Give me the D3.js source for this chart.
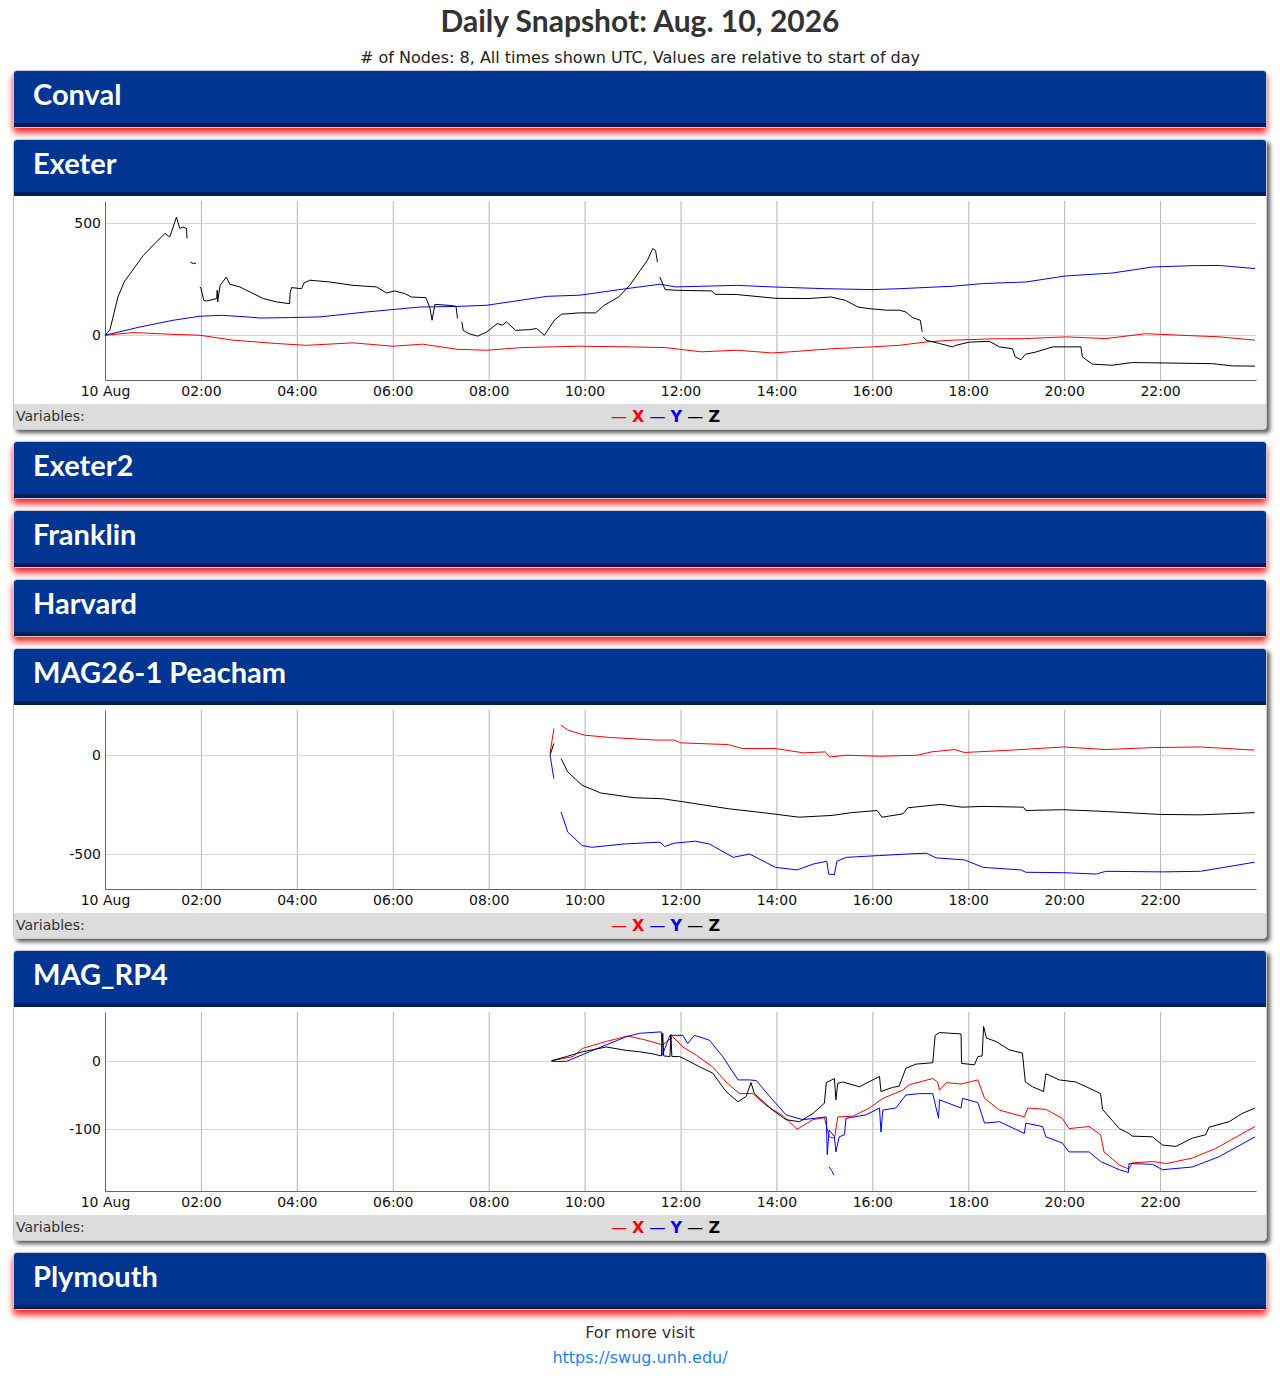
<!DOCTYPE html>
<html>
<head>
<meta charset="utf-8">
<script src="https://cdn.jsdelivr.net/npm/d3@7"></script>
<style>
body { margin: 0; background: #fff; font-family: "DejaVu Sans", sans-serif; color: #333; }
#title { height: 40px; line-height: 40px; text-align: center; font-family: Lato, sans-serif; font-weight: 700; font-size: 30px; color: #333; }
#subtitle { margin-top: 8px; height: 20px; line-height: 20px; text-align: center; font-size: 16px; color: #222; }
#panels { padding: 2px 13px 0 13px; }
.panel { border: 1px solid #c8c8c8; border-radius: 4px; margin-bottom: 11px; background: #fff; }
.panel.closed { box-shadow: 0 5px 6px rgba(255, 0, 0, 0.85); }
.panel.open { box-shadow: 3px 3px 4px rgba(0, 0, 0, 0.65); }
.head { height: 52px; line-height: 45px; border-bottom: 4px solid #001e58; background: #003591; color: #fff;
        font-family: Lato, sans-serif; font-weight: 700; font-size: 29px; padding-left: 19px; border-radius: 3px 3px 0 0; }
.chart svg { display: block; }
.vars { position: relative; height: 25px; line-height: 25px; background: #dcdcdc; font-size: 14px; padding-left: 2px; border-radius: 0 0 3px 3px; }
.legend { position: absolute; left: 597px; top: 0; font-size: 16px; }
.legend b { font-weight: bold; }
#foot { margin-top: -1px; text-align: center; font-size: 16px; line-height: 25px; color: #333; }
#foot a { color: #1a82f2; text-decoration: none; }
</style>
</head>
<body>
<div id="title">Daily Snapshot: Aug. 10, 2026</div>
<div id="subtitle"># of Nodes: 8, All times shown UTC, Values are relative to start of day</div>
<div id="panels"></div>
<div id="foot">For more visit<br><a href="https://swug.unh.edu/">https://swug.unh.edu/</a></div>
<script>
// node names, top to bottom
var nodeNames = ["Conval", "Exeter", "Exeter2", "Franklin", "Harvard", "MAG26-1 Peacham", "MAG_RP4", "Plymouth"];

// x axis: hours of the day
var hourTicks = [0, 2, 4, 6, 8, 10, 12, 14, 16, 18, 20, 22];
var hourLabels = ["10 Aug", "02:00", "04:00", "06:00", "08:00", "10:00", "12:00", "14:00", "16:00", "18:00", "20:00", "22:00"];

// variables
var varNames = ["X", "Y", "Z"];
var varColors = ["#ff0000", "#0000ff", "#000000"];

// Exeter  [hour, value]  (null = gap)
var exeterDomain = [-200, 600];
var exeterTicks = [0, 500];
var exeterX = [[0,0],[0.59,12],[1.42,4],[1.98,0],[2.67,-22],[3.58,-37],[4.2,-45],[5.17,-34],[6.0,-49],[6.62,-40],
  [7.36,-63],[7.96,-67],[8.7,-55],[9.89,-49],[10.94,-52],[11.68,-55],[12.43,-74],[13.17,-67],[13.91,-79],[14.29,-74],
  [15.18,-60],[16.0,-52],[16.56,-45],[17.12,-30],[17.67,-22],[18.51,-16],[19.2,-15],[20.03,-7],[20.87,-15],[21.7,7],
  [22.54,-1],[23.23,-7],[23.98,-22]];
var exeterY = [[0,0],[0.73,37],[1.42,67],[1.98,85],[2.43,89],[2.95,82],[3.23,77],[3.85,79],[4.48,82],[5.45,104],
  [6.56,126],[7.36,129],[7.96,134],[9.22,174],[9.9,179],[10.86,208],[11.57,228],[11.9,216],[13.17,223],[13.91,216],
  [15.03,208],[16.0,204],[16.56,208],[17.67,219],[18.3,231],[19.2,238],[20.03,265],[21.0,278],[21.84,305],[22.67,311],
  [23.23,312],[23.98,298]];
var exeterZ = [[0,0],[0.1,22],[0.27,171],[0.4,238],[0.55,283],[0.8,357],[1.04,410],[1.25,455],[1.35,439],[1.49,528],
  [1.56,477],[1.62,484],[1.70,477],[1.71,433],[1.74,null],[1.78,327],[1.84,320],[1.9,323],[1.94,null],[1.98,216],
  [2.0,210],[2.06,156],[2.12,153],[2.33,164],[2.34,201],[2.35,150],[2.4,223],[2.53,260],[2.6,228],[2.81,216],
  [3.3,164],[3.58,149],[3.85,141],[3.86,189],[3.89,213],[4.1,208],[4.15,234],[4.27,246],[4.69,238],[5.17,223],
  [5.66,216],[5.87,189],[6.04,198],[6.25,186],[6.39,171],[6.69,168],[6.77,126],[6.82,67],[6.88,138],[7.21,133],
  [7.32,129],[7.35,75],[7.39,null],[7.44,60],[7.47,22],[7.59,7],[7.77,-4],[7.96,15],[8.18,52],[8.29,45],
  [8.37,60],[8.56,22],[8.85,25],[9.0,30],[9.16,0],[9.37,67],[9.52,94],[9.89,100],[10.23,100],[10.41,134],
  [10.71,171],[10.94,223],[11.16,290],[11.31,335],[11.42,387],[11.48,379],[11.52,327],[11.545,null],[11.57,260],[11.64,223],
  [11.68,204],[11.9,201],[12.65,198],[12.72,183],[13.17,182],[13.99,165],[14.66,164],[15.14,171],[15.44,156],[15.7,126],
  [15.93,119],[16.3,112],[16.56,112],[16.7,104],[16.84,79],[17.0,67],[17.04,15],[17.05,null],[17.06,-7],[17.12,-22],
  [17.4,-37],[17.67,-52],[17.74,-45],[18.02,-31],[18.44,-27],[18.65,-52],[18.92,-60],[18.98,-97],[19.1,-109],[19.19,-85],
  [19.41,-75],[19.76,-52],[20.35,-52],[20.38,-97],[20.59,-129],[21.0,-134],[21.42,-122],[22.12,-124],[23.09,-127],[23.51,-137],
  [23.98,-138]];

// MAG26-1 Peacham
var peachamDomain = [-680, 230];
var peachamTicks = [-500, 0];
var peachamX = [[9.28,9],[9.36,136],[9.43,null],[9.51,153],[9.65,128],[10.0,102],[10.54,90],[11.52,77],[11.87,77],[12.01,63],
  [13.0,54],[13.29,34],[13.98,34],[14.57,12],[15.02,17],[15.11,-9],[15.46,0],[16.15,-5],[16.94,0],[17.23,17],
  [17.72,29],[17.92,14],[18.9,26],[19.99,42],[20.87,29],[21.86,39],[22.84,42],[23.97,26]];
var peachamY = [[9.28,0],[9.36,-119],[9.43,null],[9.51,-289],[9.65,-391],[9.95,-459],[10.15,-468],[10.83,-451],[11.57,-442],[11.67,-464],
  [11.87,-447],[12.31,-437],[12.6,-451],[13.1,-519],[13.44,-502],[13.98,-570],[14.43,-583],[14.77,-553],[15.05,-539],[15.09,-604],
  [15.21,-607],[15.26,-539],[15.46,-519],[16.15,-510],[16.74,-502],[17.13,-498],[17.33,-522],[17.92,-532],[18.31,-570],[19.1,-583],
  [19.2,-595],[19.99,-597],[20.67,-604],[20.87,-590],[22.05,-593],[22.84,-590],[23.33,-570],[23.97,-544]];
var peachamZ = [[9.28,0],[9.36,60],[9.43,null],[9.51,-17],[9.65,-85],[9.95,-153],[10.34,-192],[11.03,-216],[11.62,-221],[12.01,-235],
  [13.0,-272],[13.79,-294],[14.47,-315],[15.16,-306],[15.56,-292],[16.1,-281],[16.2,-315],[16.64,-298],[16.74,-267],[17.43,-250],
  [17.87,-264],[18.31,-260],[19.15,-264],[19.2,-281],[19.99,-277],[20.87,-286],[22.0,-301],[22.84,-303],[23.97,-292]];

// MAG_RP4
var rp4Domain = [-190, 71];
var rp4Ticks = [-100, 0];
var rp4X = [[9.31,0],[9.76,6],[9.96,18],[10.45,28],[10.9,36],[11.28,30],[11.63,23],[11.84,35],[12.05,20],[12.33,8],
  [12.67,-9],[12.95,-31],[13.23,-48],[13.51,-48],[13.78,-65],[14.15,-81],[14.43,-100],[14.76,-86],[15.0,-83],[15.1,-111],
  [15.21,-113],[15.28,-82],[15.59,-81],[15.94,-69],[16.22,-55],[16.63,-43],[16.77,-35],[17.26,-26],[17.36,-31],[17.4,-43],
  [17.54,-32],[17.85,-34],[18.2,-28],[18.34,-55],[18.65,-72],[19.17,-82],[19.24,-69],[19.62,-71],[19.96,-84],[20.1,-99],
  [20.52,-96],[20.76,-108],[20.83,-133],[21.15,-152],[21.35,-158],[21.42,-149],[21.84,-147],[22.13,-150],[22.67,-142],[23.16,-128],
  [23.98,-96]];
var rp4Y = [[9.31,-1],[9.62,-1],[10.1,13],[10.87,35],[11.15,40],[11.6,42],[11.62,8],[11.78,37],[12.05,37],[12.15,25],
  [12.29,37],[12.6,30],[12.88,6],[13.2,-28],[13.44,-28],[13.58,-29],[13.92,-57],[14.2,-79],[14.55,-86],[15.04,-82],
  [15.06,-137],[15.1,-101],[15.21,-111],[15.24,-133],[15.31,-111],[15.42,-108],[15.45,-84],[15.87,-79],[16.15,-69],[16.18,-104],
  [16.22,-72],[16.49,-69],[16.7,-50],[16.98,-48],[17.26,-48],[17.38,-84],[17.4,-57],[17.85,-69],[17.88,-55],[18.2,-61],
  [18.34,-91],[18.65,-89],[19.17,-106],[19.2,-91],[19.55,-96],[19.62,-111],[19.96,-120],[20.1,-133],[20.52,-133],[20.76,-147],
  [21.15,-159],[21.34,-163],[21.35,-150],[21.84,-151],[22.05,-159],[22.67,-155],[23.23,-140],[23.98,-111]];
var rp4YIsland = [[15.1,-155],[15.15,-160],[15.2,-167]];
var rp4Z = [[9.31,0],[9.62,6],[9.96,13],[10.45,20],[10.87,15],[11.15,13],[11.42,10],[11.6,7],[11.63,40],[11.65,7],
  [11.78,6],[11.8,38],[11.82,6],[11.98,6],[12.1,2],[12.4,-9],[12.67,-18],[12.95,-45],[13.2,-60],[13.37,-52],
  [13.47,-32],[13.54,-48],[13.92,-72],[14.2,-86],[14.48,-89],[14.76,-77],[15.0,-62],[15.04,-32],[15.21,-26],[15.24,-57],
  [15.28,-33],[15.38,-31],[15.73,-38],[16.15,-23],[16.18,-45],[16.42,-39],[16.56,-37],[16.7,-11],[16.91,-5],[17.26,-3],
  [17.31,37],[17.4,41],[17.85,39],[17.86,-4],[18.13,-6],[18.2,6],[18.29,7],[18.32,50],[18.38,33],[18.58,28],
  [18.85,16],[19.13,11],[19.19,-31],[19.34,-38],[19.57,-45],[19.62,-19],[19.9,-28],[20.24,-31],[20.52,-40],[20.76,-48],
  [20.8,-71],[21.15,-99],[21.35,-106],[21.42,-110],[21.84,-111],[22.05,-123],[22.33,-125],[22.67,-113],[22.95,-108],[23.02,-97],
  [23.44,-89],[23.71,-77],[23.98,-69]];

// nodes that have data today
var charts = {
  "Exeter": { domain: exeterDomain, ticks: exeterTicks,
              series: [[exeterX, 0], [exeterY, 1], [exeterZ, 2]] },
  "MAG26-1 Peacham": { domain: peachamDomain, ticks: peachamTicks,
              series: [[peachamX, 0], [peachamY, 1], [peachamZ, 2]] },
  "MAG_RP4": { domain: rp4Domain, ticks: rp4Ticks,
              series: [[rp4X, 0], [rp4Y, 1], [rp4YIsland, 1], [rp4Z, 2]] }
};

// chart size
var width = 1252;
var height = 208;
var margin = {top: 5, right: 10, bottom: 24, left: 91};
var inner_width = width - margin.left - margin.right;
var inner_height = height - margin.top - margin.bottom;

var xScale = d3.scaleLinear().domain([0, 24]).range([0, inner_width]);

var panels = d3.select("#panels");

nodeNames.forEach(function(name) {
  var cfg = charts[name];
  var panel = panels.append("div").attr("class", "panel " + (cfg ? "open" : "closed"));
  panel.append("div").attr("class", "head").text(name);
  if (!cfg) return;

  var svg = panel.append("div").attr("class", "chart")
    .append("svg")
    .attr("width", width)
    .attr("height", height)
    .append("g")
    .attr("transform", "translate(" + margin.left + "," + margin.top + ")");

  var yScale = d3.scaleLinear().domain(cfg.domain).range([inner_height, 0]);

  // grid lines
  svg.append("g")
     .selectAll("line")
     .data(hourTicks.slice(1))
     .enter().append("line")
     .attr("x1", function(d) { return xScale(d) + 0.5; })
     .attr("x2", function(d) { return xScale(d) + 0.5; })
     .attr("y1", 0)
     .attr("y2", inner_height)
     .attr("stroke", "#b4b4b4");
  svg.append("g")
     .selectAll("line")
     .data(cfg.ticks)
     .enter().append("line")
     .attr("x1", 0)
     .attr("x2", inner_width)
     .attr("y1", function(d) { return Math.round(yScale(d)) + 0.5; })
     .attr("y2", function(d) { return Math.round(yScale(d)) + 0.5; })
     .attr("stroke", "#d4d4d4");

  // axes
  var xAxis = svg.append("g")
     .attr("transform", "translate(0," + inner_height + ")")
     .call(d3.axisBottom(xScale)
             .tickValues(hourTicks)
             .tickSize(0)
             .tickPadding(6)
             .tickFormat(function(d, i) { return hourLabels[i]; }));
  var yAxis = svg.append("g")
     .call(d3.axisLeft(yScale)
             .tickValues(cfg.ticks)
             .tickSize(0)
             .tickPadding(4)
             .tickFormat(function(d) { return String(d); }));
  [xAxis, yAxis].forEach(function(a) {
    a.select(".domain").attr("stroke", "#666");
    a.selectAll("text").attr("font-family", "DejaVu Sans").attr("font-size", 14).attr("fill", "#111");
  });

  // series
  var line = d3.line()
               .defined(function(d) { return d[1] !== null; })
               .x(function(d) { return xScale(d[0]); })
               .y(function(d) { return yScale(d[1]); });
  cfg.series.forEach(function(s) {
    svg.append("path")
       .datum(s[0])
       .attr("fill", "none")
       .attr("stroke", varColors[s[1]])
       .attr("stroke-width", 1)
       .attr("d", line);
  });

  // variables bar
  var bar = panel.append("div").attr("class", "vars").text("Variables:");
  var legend = bar.append("span").attr("class", "legend");
  varNames.forEach(function(v, i) {
    legend.append("span").style("color", varColors[i]).text((i ? " " : "") + "\u2014 ");
    legend.append("b").style("color", varColors[i]).text(v);
  });
});
</script>
</body>
</html>
